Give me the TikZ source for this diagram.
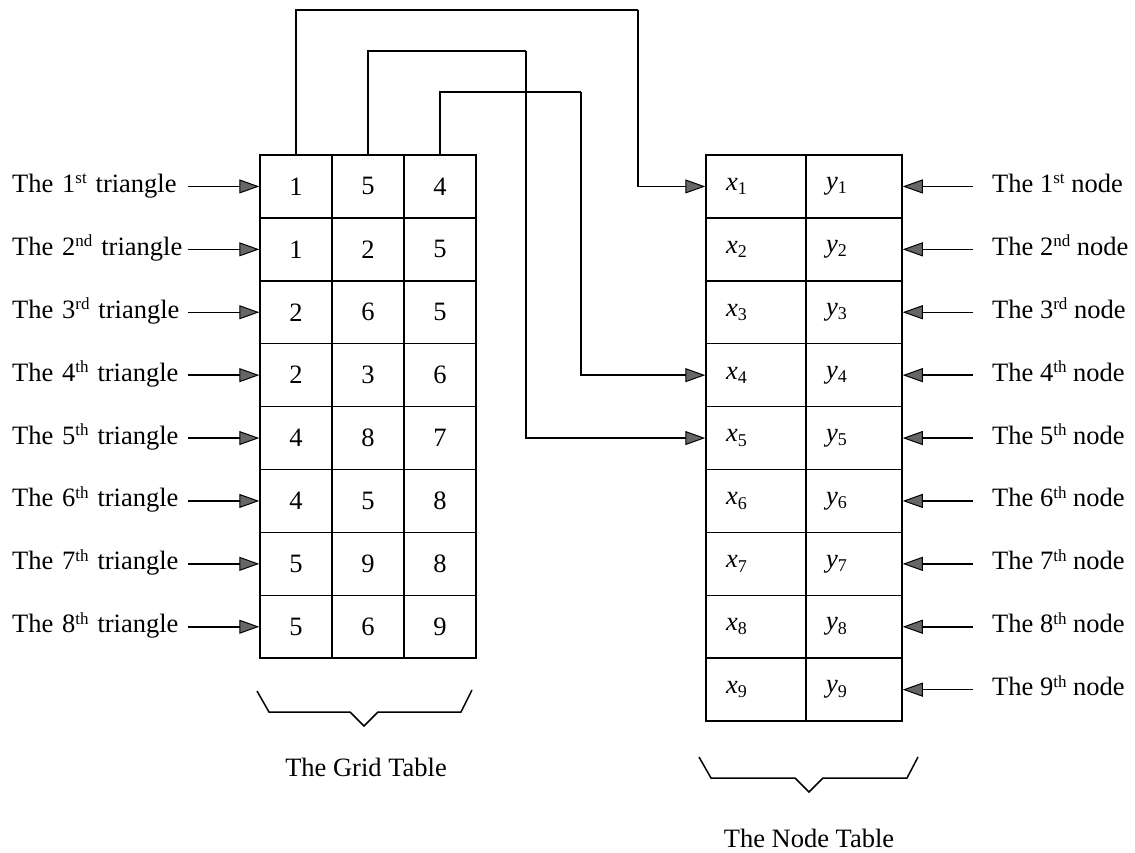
\documentclass[tikz,border=0pt]{standalone}
\usepackage{fontspec}
\setmainfont{Liberation Serif}
\usetikzlibrary{arrows.meta}
\newcommand\mysup[1]{\raisebox{0.7ex}{\fontsize{17}{17}\selectfont #1}}
\newcommand\mysub[1]{\raisebox{-0.35ex}{\fontsize{18}{18}\selectfont #1}}
\begin{document}
\begin{tikzpicture}[x=1pt,y=-1pt,
  txt/.style={font=\fontsize{26.5}{31}\selectfont},
  cell/.style={txt,draw,line width=1.5pt,inner sep=0pt,minimum height=62.9pt},
  vcell/.style={cell,inner xsep=20pt,text width=#1,align=left},
  lab/.style={txt,inner ysep=0pt,text height=18pt,text depth=6pt},
  arr/.style={line width=1.5pt,-{Triangle[length=20pt,width=14pt,fill=black!60,line width=1pt]}},
  conn/.style={line width=1.5pt},
  brace/.style={line width=1.5pt},
]
\useasboundingbox (0,0) rectangle (1135,853);
% grid table
\foreach \a/\b/\c [count=\i] in {1/5/4,1/2/5,2/6/5,2/3/6,4/8/7,4/5/8,5/9/8,5/6/9}{
  \pgfmathsetmacro\yy{155+62.9*(\i-0.5)}
  \node[cell,minimum width=72pt] (g\i-1) at (296,\yy) {\a};
  \node[cell,minimum width=72pt] (g\i-2) at (368,\yy) {\b};
  \node[cell,minimum width=72pt] (g\i-3) at (440,\yy) {\c};
  \node[lab,anchor=west,text width=176pt,align=left,inner xsep=0pt] (lt\i) at (12,\yy)
     {The \i\mysup{\ifcase\i\or st\or nd\or rd\else th\fi} triangle};
  \draw[arr] (lt\i.east) -- (g\i-1.west);
}
% node table
\foreach \i in {1,...,9}{
  \pgfmathsetmacro\yy{155+62.9*(\i-0.5)}
  \node[vcell=60pt] (n\i-1) at (756,\yy) {\itshape x\/\upshape\mysub{\i}};
  \node[vcell=56pt] (n\i-2) at (854,\yy) {\itshape y\/\upshape\mysub{\i}};
  \node[lab,anchor=west,inner xsep=0pt] (ln\i) at (973,\yy)
     {\hspace*{19pt}The \i\mysup{\ifcase\i\or st\or nd\or rd\else th\fi} node};
  \draw[arr] (ln\i.west) -- (n\i-2.east);
}
% connectors
\coordinate (c1) at (638,10);
\coordinate (c2) at (526,51);
\coordinate (c3) at (581,92);
\draw[conn] (g1-1.north) |- (c1);
\draw[arr] (c1) |- (n1-1.west);
\draw[conn] (g1-2.north) |- (c2);
\draw[arr] (c2) |- (n5-1.west);
\draw[conn] (g1-3.north) |- (c3);
\draw[arr] (c3) |- (n4-1.west);
% braces
\draw[brace] (257,691) -- (269,712) -- (350,712) -- (364,726) -- (378,712) -- (461,712) -- (472,690);
\draw[brace] (699,757) -- (711,778) -- (795,778) -- (809,792) -- (823,778) -- (907,778) -- (918,757);
\node[txt] (gridcap) at (366,767) {The Grid Table};
\node[txt] (nodecap) at (809,838) {The Node Table};
\end{tikzpicture}
\end{document}
